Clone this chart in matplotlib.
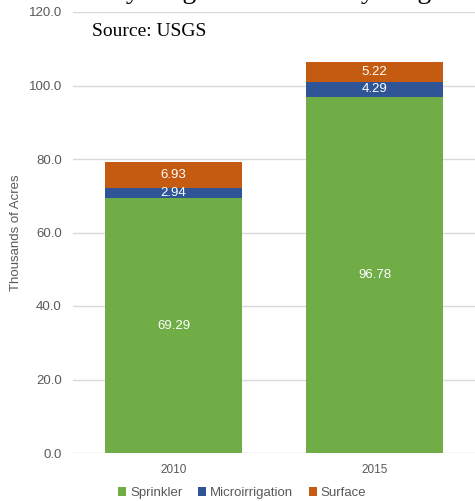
import numpy as np
import matplotlib
matplotlib.use('Agg')
import matplotlib.pyplot as plt

# Data (thousands of acres)
years = ['2010', '2015']
sprinkler = [69.29, 96.78]
micro = [2.94, 4.29]
surface = [6.93, 5.22]
series_names = ['Sprinkler', 'Microirrigation', 'Surface']
colors = ['#70AD47', '#2F5597', '#C55A11']

plt.rcParams['font.family'] = ['Liberation Sans', 'DejaVu Sans']

fig = plt.figure(figsize=(4.75, 5.01), dpi=100)
ax = fig.add_axes([73 / 475, 1 - 453 / 501, 402 / 475, 441 / 501])

x = np.arange(len(years))
width = 0.68
bottom = np.zeros(len(years))
for vals, name, col in zip([sprinkler, micro, surface], series_names, colors):
    vals = np.array(vals)
    ax.bar(x, vals, width, bottom=bottom, color=col, label=name, zorder=3)
    for xi, b, v in zip(x, bottom, vals):
        ax.text(xi, b + v / 2, f'{v:.2f}', ha='center', va='center',
                color='white', fontsize=9.5, zorder=4)
    bottom += vals

ax.set_xlim(-0.5, 1.5)
ax.set_ylim(0, 120)
ax.set_yticks(np.arange(0, 121, 20))
ax.set_yticklabels([f'{v:.1f}' for v in np.arange(0, 121, 20)])
ax.set_xticks(x)
ax.set_xticklabels(years)
ax.grid(axis='y', color='#D9D9D9', linewidth=1, zorder=0)
for s in ax.spines.values():
    s.set_visible(False)
ax.tick_params(axis='both', length=0, colors='#595959')
ax.tick_params(axis='y', pad=8, labelsize=9.5)
ax.tick_params(axis='x', pad=8, labelsize=8.5)
ax.set_ylabel('Thousands of Acres', color='#595959', fontsize=9.5, labelpad=5)

# title cut off at the top of the image, only descenders visible
fig.text(0.235, 1.004, 'by Irrigation', fontsize=20, family='Liberation Serif',
         va='baseline', ha='left')
fig.text(0.73, 1.004, 'by Irrigation', fontsize=20, family='Liberation Serif',
         va='baseline', ha='left')

fig.text(92 / 475, 1 - 31 / 501, 'Source: USGS', fontsize=14,
         family='Liberation Serif', va='center', ha='left')

fig.legend(loc='center', bbox_to_anchor=(0.51, 1 - 493 / 501), ncol=3,
           frameon=False, fontsize=9.5, handlelength=0.6, handleheight=0.6,
           handletextpad=0.3, columnspacing=1.2, labelcolor='#595959')

fig.savefig('out.png', dpi=100)
